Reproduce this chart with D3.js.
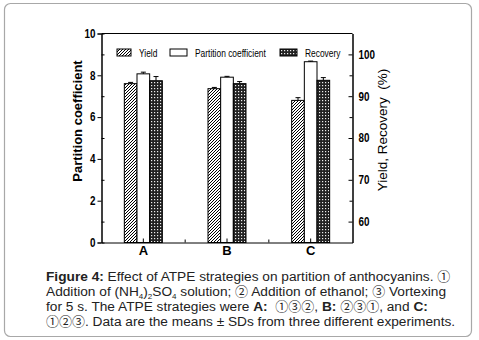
<!DOCTYPE html>
<html>
<head>
<meta charset="utf-8">
<script src="https://cdn.jsdelivr.net/npm/d3@7"></script>
<style>
  body { margin: 0; background: #fff; }
  svg { display: block; }
</style>
</head>
<body>
<script>
// data
const categories = ["A", "B", "C"];
const seriesNames = ["Yield", "Partition coefficient", "Recovery"];
const yieldVals = [93.0, 91.8, 89.0];
const yieldSD = [0.3, 0.3, 0.65];
const partitionVals = [8.07, 7.91, 8.65];
const partitionSD = [0.08, 0.04, 0.03];
const recoveryVals = [93.7, 93.0, 93.8];
const recoverySD = [1.0, 0.5, 0.65];
const leftTicks = [0, 2, 4, 6, 8, 10];
const rightTicks = [60, 70, 80, 90, 100];

const W = 479, H = 340;
const svg = d3.select("body").append("svg").attr("width", W).attr("height", H);

// outer rounded frame
svg.append("rect")
  .attr("x", 4.5).attr("y", 3.5).attr("width", 467).attr("height", 333)
  .attr("rx", 6).attr("fill", "#fff").attr("stroke", "#a8a8a8").attr("stroke-width", 1.2);

// patterns for the hatched bars
const defs = svg.append("defs");
const hatch = defs.append("pattern").attr("id", "hatch")
  .attr("patternUnits", "userSpaceOnUse").attr("width", 3).attr("height", 3);
hatch.append("rect").attr("width", 3).attr("height", 3).attr("fill", "#fff");
hatch.append("path").attr("d", "M-1,1 l2,-2 M0,3 l3,-3 M2,4 l2,-2")
  .attr("stroke", "#000").attr("stroke-width", 1);

const cross = defs.append("pattern").attr("id", "cross")
  .attr("patternUnits", "userSpaceOnUse").attr("width", 3).attr("height", 3);
cross.append("rect").attr("width", 3).attr("height", 3).attr("fill", "#222");
cross.append("rect").attr("x", 1).attr("y", 1).attr("width", 1.2).attr("height", 1.2).attr("fill", "#eee");

const fills = ["url(#hatch)", "#fff", "url(#cross)"];

const pLeft = 101.5, pRight = 352.5, pTop = 33.5, pBottom = 242.5;

// scales
const x = d3.scaleBand().domain(categories).range([pLeft, pRight]);
const inner = d3.scaleBand().domain(seriesNames).range([-19, 19]);
const yL = d3.scaleLinear().domain([0, 10]).range([pBottom, pTop]);
const yR = d3.scaleLinear().domain([55, 105]).range([pBottom, pTop]);

const rows = categories.map((c, i) => [
  { cat: c, s: seriesNames[0], v: yieldVals[i], sd: yieldSD[i], y: yR },
  { cat: c, s: seriesNames[1], v: partitionVals[i], sd: partitionSD[i], y: yL },
  { cat: c, s: seriesNames[2], v: recoveryVals[i], sd: recoverySD[i], y: yR }
]).flat();

const font = "'Liberation Sans', Arial, sans-serif";
const circ = "'Noto Sans CJK JP', 'Noto Sans CJK SC', sans-serif";

// squeeze text to look like a narrow face
function narrow(sel, k) {
  sel.each(function() {
    const w = this.getComputedTextLength();
    d3.select(this).attr("textLength", w * k).attr("lengthAdjust", "spacingAndGlyphs");
  });
}

// bars
svg.append("g").selectAll("rect")
  .data(rows)
  .enter()
  .append("rect")
  .attr("x", d => x(d.cat) + x.bandwidth() / 2 + inner(d.s))
  .attr("y", d => d.y(d.v))
  .attr("width", inner.bandwidth())
  .attr("height", d => pBottom - d.y(d.v))
  .attr("fill", d => fills[seriesNames.indexOf(d.s)])
  .attr("stroke", "#000").attr("stroke-width", 1);

// error bars, upper half only
const eb = svg.append("g").attr("stroke", "#000").attr("stroke-width", 1);
rows.forEach(d => {
  const cx = x(d.cat) + x.bandwidth() / 2 + inner(d.s) + inner.bandwidth() / 2;
  eb.append("line").attr("x1", cx).attr("x2", cx).attr("y1", d.y(d.v)).attr("y2", d.y(d.v + d.sd));
  eb.append("line").attr("x1", cx - 2.5).attr("x2", cx + 2.5).attr("y1", d.y(d.v + d.sd)).attr("y2", d.y(d.v + d.sd));
});

// axes
const axL = svg.append("g").attr("transform", `translate(${pLeft},0)`)
  .call(d3.axisLeft(yL).tickValues(leftTicks).tickSize(4).tickPadding(2));
svg.append("g").attr("transform", `translate(${pLeft},0)`)
  .call(d3.axisLeft(yL).tickValues([1, 3, 5, 7, 9]).tickSize(-3).tickFormat(""));

const axR = svg.append("g").attr("transform", `translate(${pRight},0)`)
  .call(d3.axisRight(yR).tickValues(rightTicks).tickSizeInner(-4).tickSizeOuter(0).tickPadding(6));
svg.append("g").attr("transform", `translate(${pRight},0)`)
  .call(d3.axisRight(yR).tickValues([65, 75, 85, 95]).tickSizeInner(-3).tickSizeOuter(0).tickFormat(""));

const axB = svg.append("g").attr("transform", `translate(0,${pBottom})`)
  .call(d3.axisBottom(x).tickSizeInner(-4).tickSizeOuter(0).tickPadding(3));
// minor ticks between categories
svg.append("g").selectAll("line")
  .data(categories.slice(1))
  .enter().append("line")
  .attr("x1", d => x(d)).attr("x2", d => x(d))
  .attr("y1", pBottom).attr("y2", pBottom - 3)
  .attr("stroke", "#000");

// top frame line
svg.append("line").attr("x1", pLeft).attr("x2", pRight).attr("y1", pTop).attr("y2", pTop).attr("stroke", "#000");

svg.selectAll(".domain").attr("stroke", "#000");
svg.selectAll(".tick line").attr("stroke", "#000");
[axL, axR, axB].forEach(a => a.selectAll("text")
  .attr("font-family", font).attr("font-weight", "bold").attr("font-size", 12).attr("fill", "#000"));
axB.selectAll("text").attr("font-size", 13);
narrow(axL.selectAll("text"), 0.82);
narrow(axR.selectAll("text"), 0.82);

// axis titles
svg.append("text")
  .attr("transform", "translate(82,121) rotate(-90)")
  .attr("text-anchor", "middle")
  .attr("font-family", font)
  .attr("font-weight", "bold").attr("font-size", 13)
  .text("Partition coefficient");

svg.append("text")
  .attr("transform", "translate(387,130) rotate(-90)")
  .attr("text-anchor", "middle")
  .attr("font-family", font)
  .attr("font-size", 13.5)
  .attr("xml:space", "preserve")
  .text("Yield, Recovery  (%)");

// legend
const legX = [117, 170, 280];
const leg = svg.append("g").selectAll("g")
  .data(seriesNames)
  .enter().append("g")
  .attr("transform", (d, i) => `translate(${legX[i]},49)`);
leg.append("rect").attr("width", (d, i) => i === 0 ? 14 : 17).attr("height", 7)
  .attr("fill", (d, i) => fills[i]).attr("stroke", "#000");
const legText = leg.append("text")
  .attr("x", (d, i) => i === 0 ? 22 : 25).attr("y", 7.5)
  .attr("font-family", font).attr("font-size", 10.5)
  .text(d => d);
narrow(legText, 0.8);

// caption
const cap = svg.append("g")
  .attr("font-family", font)
  .attr("font-size", 13.7).attr("fill", "#222");
const capX = 46;
const c = s => ({ circ: s });
function line(y, parts) {
  const t = cap.append("text").attr("x", capX).attr("y", y).attr("xml:space", "preserve");
  parts.forEach(p => {
    const ts = t.append("tspan");
    if (typeof p === "string") { ts.text(p); return; }
    if (p.circ) ts.attr("font-family", circ).attr("font-size", 13).text(p.circ);
    if (p.b) ts.attr("font-weight", "bold").text(p.b);
    if (p.sub) ts.attr("font-size", 8).attr("dy", 2.5).text(p.sub);
    if (p.up) ts.attr("dy", -2.5).text(p.up);
  });
}
line(281, [{ b: "Figure 4:" }, " Effect of ATPE strategies on partition of anthocyanins. ", c("\u2460")]);
line(296, ["Addition of (NH", { sub: "4" }, { up: ")" }, { sub: "2" }, { up: "SO" }, { sub: "4" },
  { up: " solution; " }, c("\u2461"), " Addition of ethanol; ", c("\u2462"), " Vortexing"]);
line(311, ["for 5 s. The ATPE strategies were ", { b: "A:" }, "  ", c("\u2460\u2462\u2461"), ", ",
  { b: "B:" }, " ", c("\u2461\u2462\u2460"), ", and ", { b: "C:" }]);
line(326, [c("\u2460\u2461\u2462"), ". Data are the means \u00b1 SDs from three different experiments."]);
</script>
</body>
</html>
